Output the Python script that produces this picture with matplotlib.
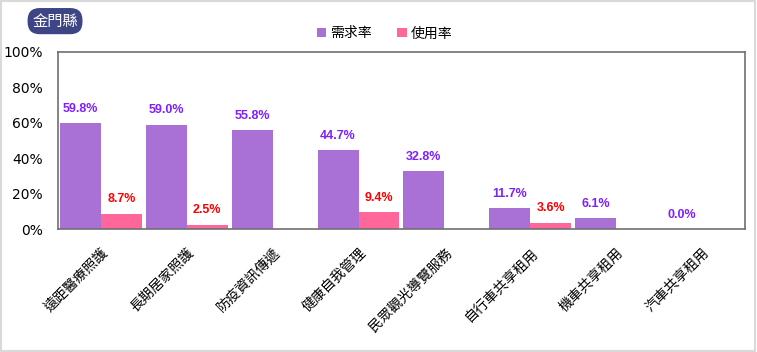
import numpy as np
import matplotlib
matplotlib.use("Agg")
import matplotlib.pyplot as plt
from matplotlib.patches import Rectangle

plt.rcParams['font.family'] = ['Noto Sans CJK TC', 'DejaVu Sans']

categories = ["遠距醫療照護", "長期居家照護", "防疫資訊傳遞", "健康自我管理",
              "民眾觀光導覽服務", "自行車共享租用", "機車共享租用", "汽車共享租用"]
demand = [59.8, 59.0, 55.8, 44.7, 32.8, 11.7, 6.1, 0.0]
usage = [8.7, 2.5, None, 9.4, None, 3.6, None, None]
region = "金門縣"

purple = "#A971D6"
pink = "#FF6699"

fig = plt.figure(figsize=(7.57, 3.52), dpi=100)
ax = fig.add_axes([0.0766, 0.3494, 0.9074, 0.5029])

x = np.arange(len(categories))
w = 0.477
ax.bar(x - w / 2, demand, w, color=purple, label="需求率")
u_vals = [v if v is not None else 0 for v in usage]
ax.bar(x + w / 2, u_vals, w, color=pink, label="使用率")

for i, v in enumerate(demand):
    ax.annotate(f"{v:.1f}%", (x[i] - w / 2, v), xytext=(0, 6), textcoords="offset points",
                ha="center", va="bottom", color="#7F1FFF", fontsize=9,
                fontweight="bold", family="Liberation Sans")
for i, v in enumerate(usage):
    if v is None:
        continue
    ax.annotate(f"{v:.1f}%", (x[i] + w / 2, v), xytext=(0, 6), textcoords="offset points",
                ha="center", va="bottom", color="#FF0000", fontsize=9,
                fontweight="bold", family="Liberation Sans")

ax.set_xlim(-0.5, len(categories) - 0.5)
ax.set_ylim(0, 100)
ax.set_yticks(range(0, 101, 20))
ax.set_yticklabels([f"{t}%" for t in range(0, 101, 20)], fontsize=10, family="DejaVu Sans")
ax.set_xticks(x)
ax.set_xticklabels(categories, rotation=45, ha="right", rotation_mode="anchor", fontsize=10)
ax.tick_params(axis="both", length=0, colors="#000000")
ax.tick_params(axis="x", pad=12)
ax.tick_params(axis="y", pad=11)
for s in ax.spines.values():
    s.set_color("#707070")
    s.set_linewidth(1.2)

fig.legend(loc="center", bbox_to_anchor=(0.508, 0.905), ncol=2, frameon=False,
           handlelength=0.7, handleheight=0.7, handletextpad=0.3, columnspacing=1.8,
           fontsize=10)

fig.text(0.0727, 0.94, region, ha="center", va="center", color="white", fontsize=11,
         bbox=dict(boxstyle="round,pad=0.3,rounding_size=0.8", facecolor="#3D4585",
                   edgecolor="none"))

fig.patches.append(Rectangle((0.001, 0.002), 0.997, 0.995, transform=fig.transFigure,
                             fill=False, edgecolor="#D9D9D9", linewidth=1.5))

fig.savefig("out.png", dpi=100)
